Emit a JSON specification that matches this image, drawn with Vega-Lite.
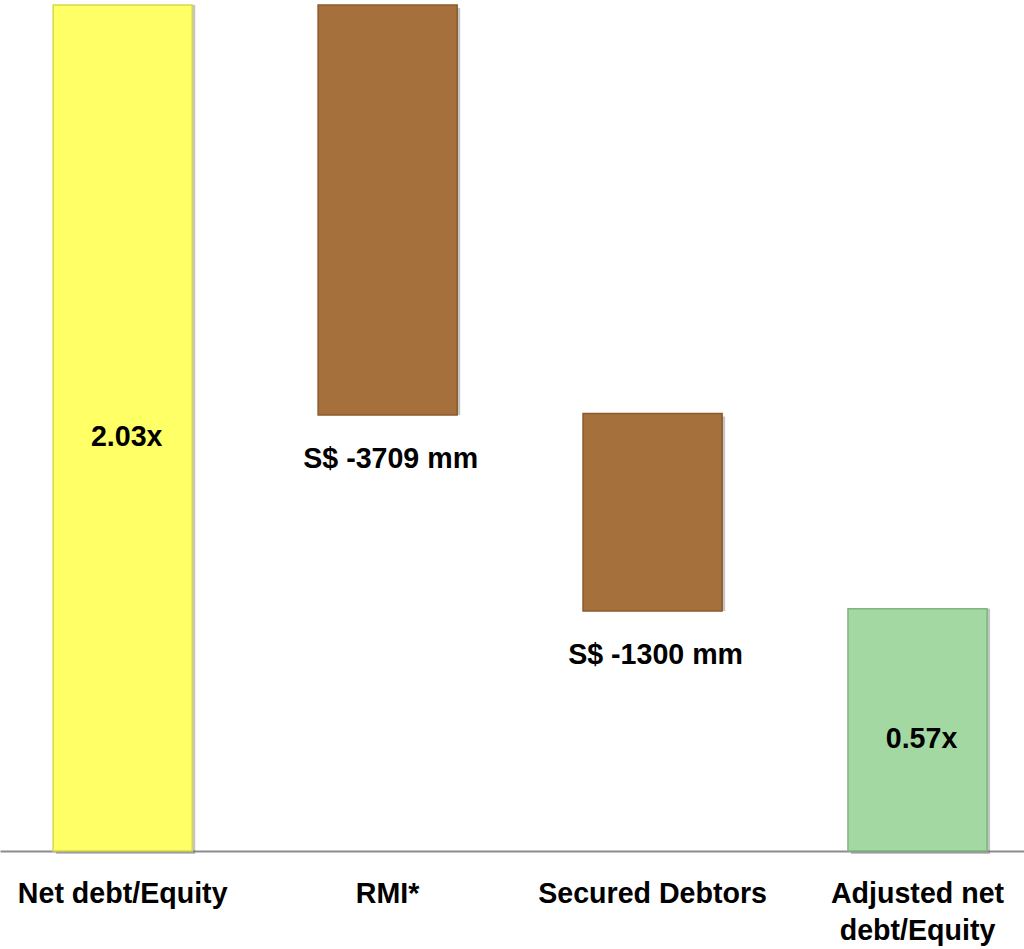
{
  "$schema": "https://vega.github.io/schema/vega-lite/v6.json",
  "width": 1024,
  "height": 851,
  "padding": {"left": 0, "top": 0, "right": 0, "bottom": 98},
  "autosize": {"type": "none"},
  "background": "white",
  "config": {"view": {"stroke": null}},
  "data": {"values": [
    {"cat": "Net debt/Equity", "start": 0, "end": 2.03, "kind": "total", "label": "2.03x"},
    {"cat": "RMI*", "start": 2.03, "end": 1.046, "kind": "delta", "label": "S$ -3709 mm"},
    {"cat": "Secured Debtors", "start": 1.05, "end": 0.576, "kind": "delta", "label": "S$ -1300 mm"},
    {"cat": "Adjusted net debt/Equity", "start": 0, "end": 0.581, "kind": "final", "label": "0.57x"}
  ]},
  "transform": [{"calculate": "(datum.start + datum.end) / 2", "as": "mid"}],
  "encoding": {
    "x": {
      "field": "cat", "type": "nominal", "sort": null,
      "scale": {"paddingInner": 0.475, "paddingOuter": 0.17, "align": 0.59},
      "axis": {
        "title": null, "ticks": false, "domainColor": "#8c8c8c", "domainWidth": 2,
        "labelAngle": 0, "labelFont": "Liberation Sans", "labelFontWeight": "bold",
        "labelFontSize": 28.6, "labelColor": "#000000", "labelPadding": 28, "labelLineHeight": 37,
        "labelLimit": 400,
        "labelExpr": "datum.label == 'Adjusted net debt/Equity' ? ['Adjusted net', 'debt/Equity'] : datum.label"
      }
    }
  },
  "layer": [
    {
      "mark": {"type": "bar", "color": "#555555", "opacity": 0.35, "xOffset": 3, "yOffset": 3},
      "encoding": {
        "y": {"field": "start", "type": "quantitative", "scale": {"domain": [0, 2.042], "nice": false, "zero": true}, "axis": null},
        "y2": {"field": "end"}
      }
    },
    {
      "mark": {"type": "bar", "strokeWidth": 1.5},
      "encoding": {
        "y": {"field": "start", "type": "quantitative"},
        "y2": {"field": "end"},
        "color": {"field": "cat", "type": "nominal", "legend": null,
          "scale": {"domain": ["Net debt/Equity", "RMI*", "Secured Debtors", "Adjusted net debt/Equity"],
                    "range": ["#FFFF66", "#A5703C", "#A5703C", "#A3D8A3"]}},
        "stroke": {"field": "cat", "type": "nominal", "legend": null,
          "scale": {"domain": ["Net debt/Equity", "RMI*", "Secured Debtors", "Adjusted net debt/Equity"],
                    "range": ["#D8D84E", "#8A5A2C", "#8A5A2C", "#7FB47F"]}}
      }
    },
    {
      "transform": [{"filter": "datum.kind != 'delta'"}],
      "mark": {"type": "text", "font": "Liberation Sans", "fontWeight": "bold", "fontSize": 28.6, "color": "#000000", "dy": 9, "dx": 4},
      "encoding": {
        "y": {"field": "mid", "type": "quantitative"},
        "text": {"field": "label"}
      }
    },
    {
      "transform": [{"filter": "datum.kind == 'delta'"}],
      "mark": {"type": "text", "font": "Liberation Sans", "fontWeight": "bold", "fontSize": 28.6, "color": "#000000", "dy": 44, "dx": 3},
      "encoding": {
        "y": {"field": "end", "type": "quantitative"},
        "text": {"field": "label"}
      }
    }
  ]
}
